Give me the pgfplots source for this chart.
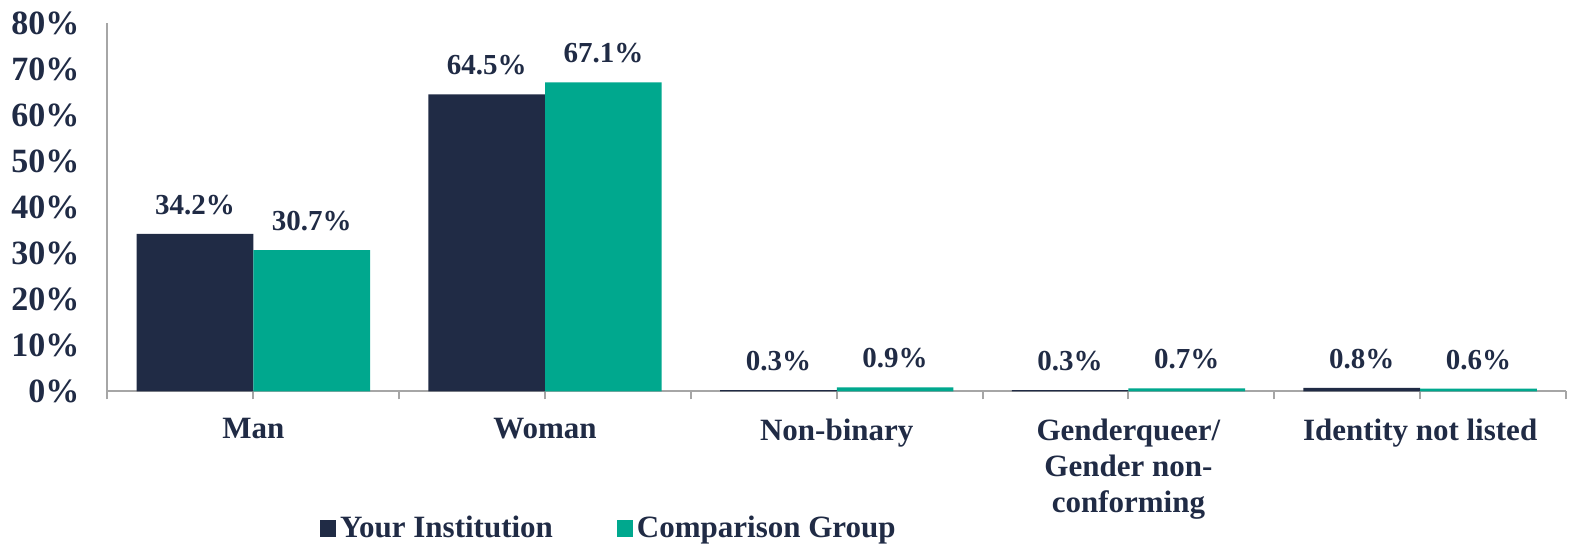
\documentclass[border=0pt]{standalone}
\usepackage{pgfplots}
\pgfplotsset{compat=1.18}
\usepackage{fontspec}
\setmainfont{Liberation Serif}
\definecolor{navy}{HTML}{202B45}
\definecolor{compteal}{HTML}{00A88E}
\definecolor{axgray}{HTML}{A6A6A6}
\begin{document}
\begin{tikzpicture}
\path[use as bounding box] (-53.75pt,-76.25pt) rectangle (730.75pt,195.75pt);
\begin{axis}[
 at={(0pt,0pt)},anchor=south west,
 scale only axis,width=729.25pt,height=184.25pt,
 xmin=-0.5,xmax=4.5,ymin=0,ymax=80,
 axis lines=left,axis line style={-,draw=axgray,line width=1pt},
 ybar,bar width=0.4,
 /pgf/number format/assume math mode=true,
 tick align=outside,major tick length=4pt,
 xtick={-0.5,0.5,...,4.5},xticklabels={},
 x tick style={draw=axgray,line width=1pt},
 extra x ticks={0,1,2,3,4},
 extra x tick labels={Man,Woman,Non-binary,{Genderqueer/\\Gender non-\\conforming},Identity not listed},
 extra x tick style={tick style={draw=none}},
 xticklabel style={font=\fontsize{15.5}{18}\selectfont\bfseries,text=navy,align=center,yshift=-6pt},
 ytick={0,10,...,80},
 yticklabel={\pgfmathprintnumber{\tick}\%},
 y tick style={draw=none},
 yticklabel style={font=\fontsize{17}{20}\selectfont\bfseries,text=navy,xshift=-6.5pt},
 nodes near coords={\pgfmathprintnumber[fixed,fixed zerofill,precision=1]{\pgfplotspointmeta}\%},
 every node near coord/.append style={font=\fontsize{14.5}{17}\selectfont\bfseries,text=navy,yshift=6pt},
 legend columns=2,
 legend style={at={(0.3445,-0.372)},anchor=center,draw=none,
   font=\fontsize{15.5}{18}\selectfont\bfseries,text=navy,
   /tikz/every even column/.append style={column sep=30pt}},
 legend image code/.code={\fill[#1,draw=none] (0pt,-4.25pt) rectangle (8pt,4.25pt);},
 clip=false]
 \addplot[fill=navy,draw=none,bar shift=-0.2]
   coordinates {(0,34.2) (1,64.5) (2,0.3) (3,0.3) (4,0.8)};
 \addlegendentry{Your Institution}
 \addplot[fill=compteal,draw=none,bar shift=0.2]
   coordinates {(0,30.7) (1,67.1) (2,0.9) (3,0.7) (4,0.6)};
 \addlegendentry{Comparison Group}
\end{axis}
\end{tikzpicture}
\end{document}
